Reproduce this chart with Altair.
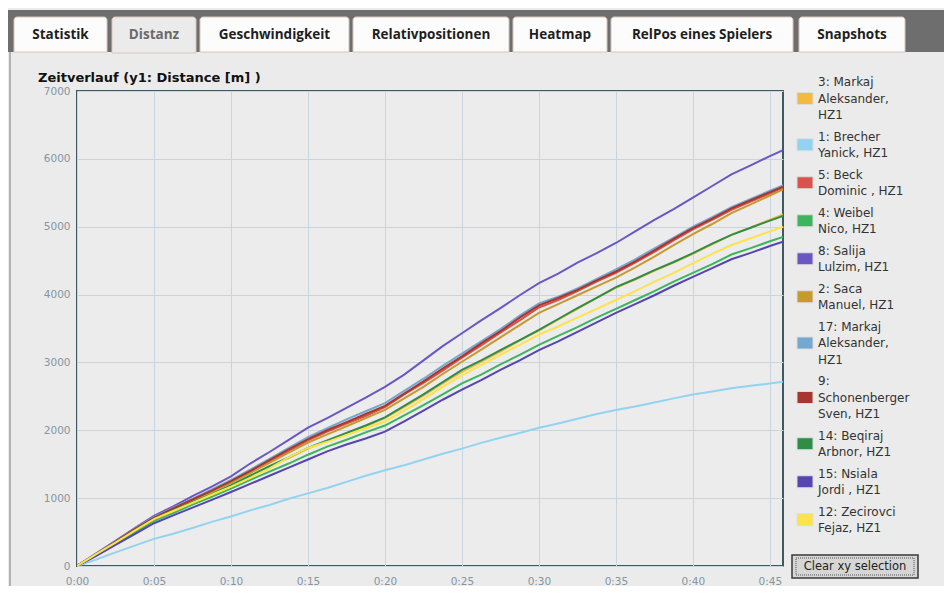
import altair as alt
import pandas as pd

# ---------------- data ----------------
times = [0, 1.25, 2.5, 3.75, 5, 6.25, 7.5, 8.75, 10, 11.25, 12.5, 13.75, 15, 16.25, 17.5, 18.75,
         20, 21.25, 22.5, 23.75, 25, 26.25, 27.5, 28.75, 30, 31.25, 32.5, 33.75, 35, 36.25,
         37.5, 38.75, 40, 41.25, 42.5, 43.75, 45, 45.85]

series_names = [
    "3: Markaj|Aleksander,|HZ1",
    "1: Brecher|Yanick, HZ1",
    "5: Beck|Dominic , HZ1",
    "4: Weibel|Nico, HZ1",
    "8: Salija|Lulzim, HZ1",
    "2: Saca|Manuel, HZ1",
    "17: Markaj|Aleksander,|HZ1",
    "9:|Schonenberger|Sven, HZ1",
    "14: Beqiraj|Arbnor, HZ1",
    "15: Nsiala|Jordi , HZ1",
    "12: Zecirovci|Fejaz, HZ1",
]
series_colors = ["#f5b942", "#93d3f2", "#d9534a", "#3cb55e", "#6b57c4", "#c79a2e",
                 "#74a9cf", "#a8362f", "#2f8d48", "#5644b3", "#fde34a"]

d_markaj3 = [0, 170, 340, 505, 680, 805, 935, 1060, 1185, 1325, 1460, 1590, 1730, 1840, 1950, 2060,
             2180, 2340, 2510, 2690, 2860, 3010, 3160, 3320, 3470, 3630, 3790, 3950, 4100, 4220,
             4350, 4470, 4600, 4740, 4880, 4990, 5105, 5180]
d_brecher1 = [0, 95, 200, 300, 400, 475, 560, 650, 730, 820, 900, 990, 1070, 1150, 1240, 1330,
              1410, 1485, 1570, 1655, 1730, 1815, 1890, 1960, 2036, 2100, 2170, 2240, 2300, 2350,
              2410, 2470, 2526, 2570, 2620, 2655, 2690, 2716]
d_beck5 = [0, 170, 350, 540, 705, 840, 970, 1100, 1240, 1400, 1545, 1690, 1850, 1980, 2100, 2210,
           2340, 2530, 2700, 2880, 3070, 3250, 3440, 3620, 3810, 3920, 4050, 4190, 4320, 4470,
           4630, 4800, 4960, 5100, 5250, 5370, 5490, 5570]
d_weibel4 = [0, 165, 335, 490, 665, 780, 905, 1020, 1140, 1270, 1390, 1510, 1640, 1760, 1860, 1970,
             2070, 2220, 2370, 2530, 2690, 2820, 2970, 3110, 3260, 3390, 3520, 3660, 3790, 3920,
             4050, 4190, 4320, 4450, 4590, 4685, 4785, 4850]
d_salija8 = [0, 185, 370, 560, 740, 880, 1030, 1170, 1320, 1510, 1680, 1860, 2040, 2180, 2330, 2480,
             2640, 2820, 3030, 3240, 3430, 3620, 3800, 3990, 4170, 4310, 4470, 4610, 4760, 4930,
             5100, 5260, 5430, 5600, 5770, 5905, 6040, 6130]
d_saca2 = [0, 170, 345, 530, 700, 830, 960, 1090, 1225, 1370, 1520, 1670, 1820, 1940, 2060, 2180,
           2300, 2470, 2640, 2830, 3010, 3190, 3370, 3550, 3730, 3860, 3990, 4120, 4250, 4400,
           4560, 4730, 4890, 5040, 5200, 5330, 5460, 5550]
d_markaj17 = [0, 180, 360, 550, 720, 860, 990, 1130, 1270, 1420, 1580, 1740, 1900, 2030, 2160, 2280,
              2400, 2580, 2760, 2950, 3130, 3310, 3490, 3690, 3870, 3970, 4090, 4230, 4370, 4520,
              4680, 4840, 5000, 5140, 5290, 5410, 5530, 5610]
d_schonenberger9 = [0, 175, 355, 545, 710, 850, 980, 1110, 1250, 1400, 1560, 1720, 1870, 2000, 2120, 2240,
                    2360, 2540, 2720, 2910, 3090, 3280, 3460, 3660, 3840, 3950, 4070, 4210, 4340, 4490,
                    4650, 4820, 4980, 5120, 5270, 5390, 5510, 5590]
d_beqiraj14 = [0, 170, 345, 520, 690, 820, 940, 1060, 1190, 1330, 1470, 1600, 1740, 1850, 1960, 2070,
               2190, 2360, 2530, 2710, 2890, 3030, 3180, 3330, 3480, 3640, 3800, 3950, 4110, 4230,
               4360, 4480, 4610, 4750, 4880, 4985, 5090, 5160]
d_nsiala15 = [0, 150, 310, 470, 630, 745, 860, 975, 1090, 1210, 1330, 1450, 1570, 1690, 1790, 1880,
              1980, 2130, 2290, 2450, 2600, 2740, 2890, 3030, 3180, 3310, 3450, 3590, 3730, 3860,
              3990, 4130, 4260, 4390, 4520, 4615, 4715, 4780]
d_zecirovci12 = [0, 175, 345, 520, 690, 810, 930, 1050, 1170, 1300, 1440, 1600, 1740, 1830, 1930, 2030,
                 2130, 2290, 2460, 2640, 2810, 2960, 3110, 3260, 3410, 3530, 3660, 3790, 3920, 4050,
                 4190, 4320, 4460, 4600, 4730, 4830, 4930, 5000]

series_values = [d_markaj3, d_brecher1, d_beck5, d_weibel4, d_salija8, d_saca2,
                 d_markaj17, d_schonenberger9, d_beqiraj14, d_nsiala15, d_zecirovci12]

x_ticks = [0, 5, 10, 15, 20, 25, 30, 35, 40, 45]
y_ticks = [0, 1000, 2000, 3000, 4000, 5000, 6000, 7000]

tab_labels = ["Statistik", "Distanz", "Geschwindigkeit", "Relativpositionen",
              "Heatmap", "RelPos eines Spielers", "Snapshots"]
selected_tab = "Distanz"
chart_title = "Zeitverlauf (y1: Distance [m] )"
button_label = "Clear xy selection"

# ---------------- layout (pixels, plot coordinates) ----------------
W, H = 706, 475
tab_edges = [(-63, 30), (35, 119), (123, 272), (276, 432), (436, 530), (534, 716), (722, 828)]
LEG_X, LEG_Y0, LEG_LH, LEG_GAP = 720, -9, 16.5, 21.5

rows = []
for name, vals in zip(series_names, series_values):
    assert len(vals) == len(times)
    for t, v in zip(times, vals):
        rows.append({"t": t, "d": v, "s": name})
df = pd.DataFrame(rows)

FONT = "DejaVu Sans"
one = alt.Data(values=[{}])

lines = alt.Chart(df).mark_line(strokeWidth=2, clip=True).encode(
    x=alt.X("t:Q",
            scale=alt.Scale(domain=[0, 45.85], nice=False, zero=False),
            axis=alt.Axis(values=x_ticks, title=None, ticks=False, domain=False,
                          labelExpr="'0:' + (datum.value < 10 ? '0' : '') + datum.value",
                          labelFont=FONT, labelFontSize=10.5, labelColor="#8595a3",
                          labelPadding=10, gridColor="#c9d5de", gridWidth=1,
                          labelFlush=False)),
    y=alt.Y("d:Q",
            scale=alt.Scale(domain=[0, 7000], nice=False),
            axis=alt.Axis(values=y_ticks, title=None, ticks=False, domain=False, format="d",
                          labelFont=FONT, labelFontSize=10.5, labelColor="#8595a3",
                          labelPadding=7, gridColor="#c9d5de", gridWidth=1,
                          labelFlush=False)),
    color=alt.Color("s:N",
                    scale=alt.Scale(domain=series_names, range=series_colors),
                    sort=series_names, legend=None),
)

layers = []

# dark header band
layers.append(alt.Chart(one).mark_rect(color="#6e6e6e").encode(
    x=alt.value(-69), x2=alt.value(W + 161), y=alt.value(-81), y2=alt.value(-39)))
# panel left border
layers.append(alt.Chart(one).mark_rule(color="#7a7a7a", strokeWidth=1).encode(
    x=alt.value(-67), y=alt.value(-39), y2=alt.value(H + 20)))

for lab, (a, b) in zip(tab_labels, tab_edges):
    sel = lab == selected_tab
    layers.append(alt.Chart(one).mark_rect(
        fill="#ebebeb" if sel else "#fcfcfc", stroke="#d8c6be", strokeWidth=1,
        cornerRadiusTopLeft=3, cornerRadiusTopRight=3).encode(
        x=alt.value(a), x2=alt.value(b), y=alt.value(-74), y2=alt.value(-38 if sel else -39)))
    layers.append(alt.Chart(one).mark_text(
        text=lab, font="Open Sans", fontSize=13.5, fontWeight="bold",
        color="#6a6a6a" if sel else "#1e1e1e", align="center", baseline="middle").encode(
        x=alt.value((a + b) / 2), y=alt.value(-56)))

# chart title
layers.append(alt.Chart(one).mark_text(
    text=chart_title, font=FONT, fontSize=13, fontWeight="bold", color="#111111",
    align="left", baseline="middle").encode(x=alt.value(-39), y=alt.value(-13)))

# legend (manual, variable entry heights)
y_first = LEG_Y0
for name, col in zip(series_names, series_colors):
    parts = name.split("|")
    n = len(parts)
    yc = y_first + (n - 1) * LEG_LH / 2
    layers.append(alt.Chart(one).mark_rect(fill=col, stroke="#dcdcdc", strokeWidth=1).encode(
        x=alt.value(LEG_X), x2=alt.value(LEG_X + 16), y=alt.value(yc - 6), y2=alt.value(yc + 6)))
    layers.append(alt.Chart(one).mark_text(
        text=parts, font=FONT, fontSize=12, lineHeight=LEG_LH, color="#333333",
        align="left", baseline="middle").encode(x=alt.value(LEG_X + 21), y=alt.value(y_first)))
    y_first += (n - 1) * LEG_LH + LEG_GAP

# button
layers.append(alt.Chart(one).mark_rect(fill="#d6d6d6", stroke="#3a3a3a", strokeWidth=1.5).encode(
    x=alt.value(715), x2=alt.value(841), y=alt.value(464), y2=alt.value(487)))
layers.append(alt.Chart(one).mark_rect(fill="#d6d6d6", stroke="#555555", strokeWidth=1,
                                       strokeDash=[1, 1]).encode(
    x=alt.value(719), x2=alt.value(837), y=alt.value(467), y2=alt.value(484)))
layers.append(alt.Chart(one).mark_text(
    text=button_label, font=FONT, fontSize=11.5, color="#222222",
    align="center", baseline="middle").encode(x=alt.value(778), y=alt.value(475.5)))

chart = alt.layer(lines, *layers).properties(
    width=W, height=H,
    autosize=alt.AutoSizeParams(type="none"),
    padding={"left": 69, "top": 83, "right": 161, "bottom": 20},
    background="#ebebeb",
).configure_view(
    stroke="#3e5961", strokeWidth=2, fill="#ececec"
)

chart.save("out.html", embed_options={"renderer": "svg", "actions": False})
